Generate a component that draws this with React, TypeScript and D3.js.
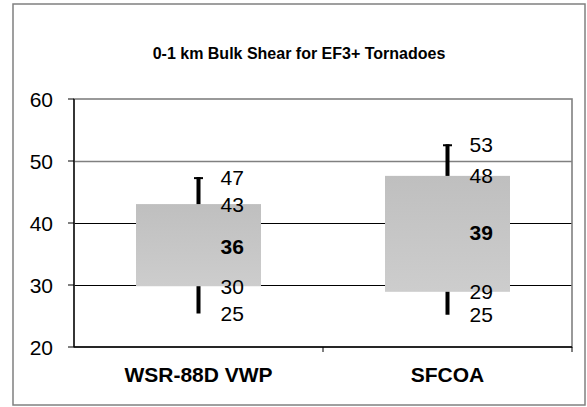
import React from "react";
import * as d3 from "d3";

const title = "0-1 km Bulk Shear for EF3+ Tornadoes";
const categories = ["WSR-88D VWP", "SFCOA"];
const whiskerHigh = [47.4, 52.7];
const boxHigh = [43.05, 47.6];
const median = [36.2, 38.5];
const boxLow = [29.8, 28.9];
const whiskerLow = [25.4, 25.2];
const yTicks = [20, 30, 40, 50, 60];

const W = 587;
const H = 407;
const plot = { left: 74, right: 572, top: 99, bottom: 347 };
const FONT = "'Liberation Sans', Arial, sans-serif";

export default function App() {
  const y = d3.scaleLinear().domain([20, 60]).range([plot.bottom, plot.top]);
  const x = d3
    .scaleBand<string>()
    .domain(categories)
    .range([plot.left, plot.right])
    .paddingInner(0)
    .paddingOuter(0);
  const bw = x.bandwidth();
  const boxW = bw * 0.502;

  return (
    <svg
      width={W}
      height={H}
      style={{ position: "absolute", left: 0, top: 0, background: "#fff" }}
    >
      <defs>
        <linearGradient id="boxGrad" x1="0" y1="0" x2="0" y2="1">
          <stop offset="0%" stopColor="#bfbfbf" />
          <stop offset="100%" stopColor="#cdcdcd" />
        </linearGradient>
      </defs>
      {/* outer border */}
      <rect x={13} y={4} width={572} height={401} fill="#fff" stroke="#808080" strokeWidth={1.5} />
      {/* title */}
      <text
        x={299}
        y={59}
        textAnchor="middle"
        fontFamily={FONT}
        fontWeight="bold"
        fontSize={16}
      >
        {title}
      </text>
      {/* gridlines */}
      {yTicks
        .filter((t) => t !== 20 && t !== 60)
        .map((t) => (
          <line
            key={"g" + t}
            x1={plot.left}
            x2={plot.right}
            y1={Math.round(y(t)) + 0.5}
            y2={Math.round(y(t)) + 0.5}
            stroke={t === 50 ? "#808080" : "#000"}
            strokeWidth={t === 50 ? 1.6 : 1}
          />
        ))}
      {/* plot area border */}
      <rect
        x={plot.left}
        y={plot.top}
        width={plot.right - plot.left}
        height={plot.bottom - plot.top}
        fill="none"
        stroke="#808080"
        strokeWidth={1.6}
      />
      {/* whiskers and boxes */}
      {categories.map((c, i) => {
        const cx = (x(c) as number) + bw / 2;
        return (
          <g key={c}>
            <line
              x1={cx}
              x2={cx}
              y1={y(whiskerLow[i])}
              y2={y(whiskerHigh[i])}
              stroke="#000"
              strokeWidth={4}
            />
            <line
              x1={cx - 4.5}
              x2={cx + 4.5}
              y1={y(whiskerHigh[i]) + 1}
              y2={y(whiskerHigh[i]) + 1}
              stroke="#000"
              strokeWidth={2}
            />
            <rect
              x={cx - boxW / 2}
              y={y(boxHigh[i])}
              width={boxW}
              height={y(boxLow[i]) - y(boxHigh[i])}
              fill="url(#boxGrad)"
            />
          </g>
        );
      })}
      {/* axes */}
      <line x1={plot.left} x2={plot.left} y1={plot.top} y2={plot.bottom} stroke="#000" strokeWidth={1.3} />
      <line x1={plot.left} x2={plot.right} y1={plot.bottom} y2={plot.bottom} stroke="#000" strokeWidth={1.3} />
      {yTicks.map((t) => (
        <g key={"t" + t}>
          <line x1={plot.left - 6} x2={plot.left} y1={y(t)} y2={y(t)} stroke="#000" strokeWidth={1} />
          <text
            x={53}
            y={y(t)}
            dy="0.36em"
            textAnchor="end"
            fontFamily={FONT}
            fontSize={21}
          >
            {t}
          </text>
        </g>
      ))}
      {categories.map((c) => (
        <line
          key={"xt" + c}
          x1={(x(c) as number) + bw}
          x2={(x(c) as number) + bw}
          y1={plot.bottom}
          y2={plot.bottom + 5}
          stroke="#000"
          strokeWidth={1}
        />
      ))}
      {categories.map((c) => (
        <text
          key={"xl" + c}
          x={(x(c) as number) + bw / 2}
          y={382}
          textAnchor="middle"
          fontFamily={FONT}
          fontWeight="bold"
          fontSize={21}
        >
          {c}
        </text>
      ))}
      {/* data labels */}
      {categories.map((c, i) => {
        const lx = (x(c) as number) + bw / 2 + 22;
        const labels: [number, boolean][] = [
          [whiskerHigh[i], false],
          [boxHigh[i], false],
          [median[i], true],
          [boxLow[i], false],
          [whiskerLow[i], false],
        ];
        return (
          <g key={"dl" + c}>
            {labels.map(([v, bold], j) => (
              <text
                key={j}
                x={lx}
                y={y(v)}
                dy="0.36em"
                fontFamily={FONT}
                fontSize={21}
                fontWeight={bold ? "bold" : "normal"}
              >
                {Math.round(v)}
              </text>
            ))}
          </g>
        );
      })}
    </svg>
  );
}
